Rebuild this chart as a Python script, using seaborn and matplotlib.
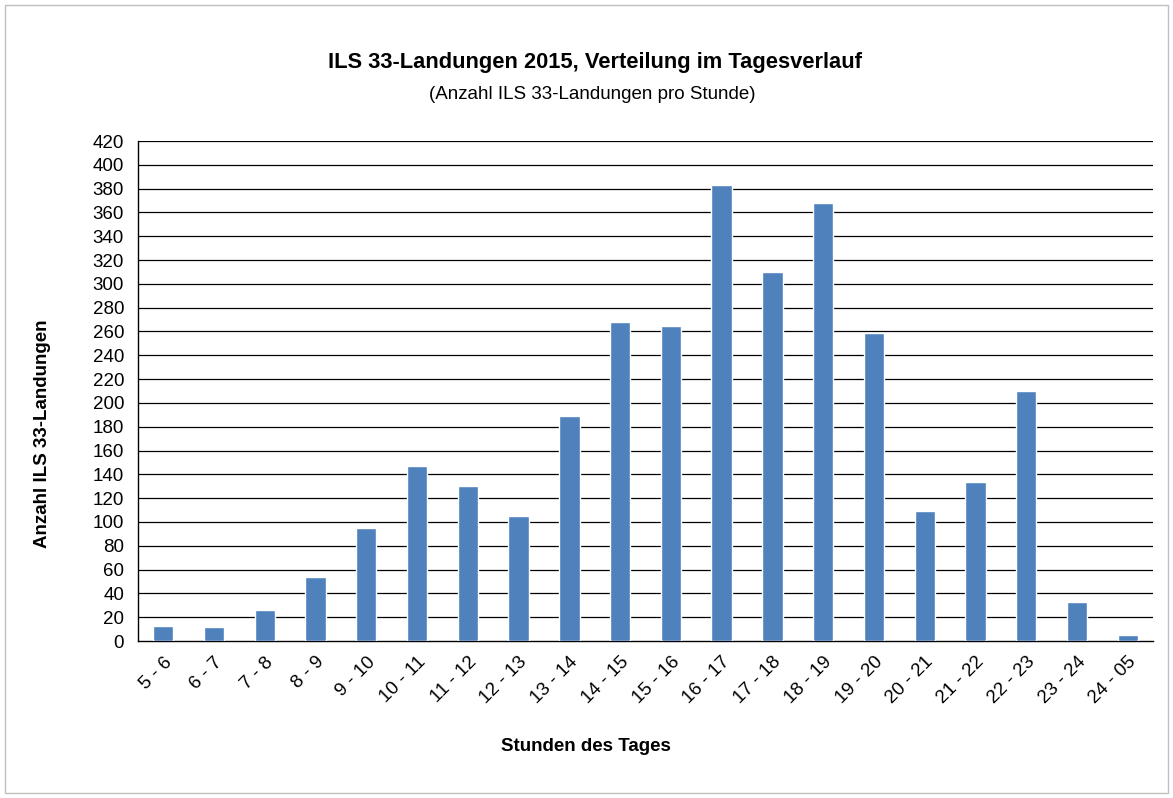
import pandas as pd
import matplotlib
matplotlib.use('Agg')
import matplotlib.pyplot as plt
import seaborn as sns
from matplotlib.patches import Rectangle

hours = ["5 - 6", "6 - 7", "7 - 8", "8 - 9", "9 - 10", "10 - 11", "11 - 12",
         "12 - 13", "13 - 14", "14 - 15", "15 - 16", "16 - 17", "17 - 18",
         "18 - 19", "19 - 20", "20 - 21", "21 - 22", "22 - 23", "23 - 24", "24 - 05"]
landings = [13, 12, 26, 54, 95, 147, 130, 105, 189, 268, 265, 383, 310, 368,
            259, 109, 134, 210, 33, 5]
y_ticks = list(range(0, 421, 20))

df = pd.DataFrame({"Stunde": hours, "Landungen": landings})

sns.set_style("white")
plt.rcParams['font.family'] = ['Liberation Sans', 'DejaVu Sans']
plt.rcParams['text.color'] = 'black'
plt.rcParams['axes.labelcolor'] = 'black'
plt.rcParams['xtick.color'] = 'black'
plt.rcParams['ytick.color'] = 'black'

fig = plt.figure(figsize=(11.73, 7.98), dpi=100)
ax = fig.add_axes([0.1176, 0.1967, 0.8654, 0.6266])

sns.barplot(data=df, x="Stunde", y="Landungen", color="#4F81BD", width=0.4,
            saturation=1, ax=ax, zorder=3)

ax.set_ylim(0, 420)
ax.set_xlim(-0.5, len(hours) - 0.5)
ax.set_yticks(y_ticks)
ax.set_yticklabels([str(v) for v in y_ticks], fontsize=13.5)
for v in y_ticks[1:]:
    ax.axhline(v, color="black", linewidth=0.9, zorder=1)

# Excel-style ticks between categories
ax.set_xticks(range(len(hours)))
ax.set_xticklabels(hours, rotation=45, ha="right", rotation_mode="anchor", fontsize=13.5)
ax.tick_params(axis="x", which="major", length=0, pad=9)
ax.set_xticks([i - 0.5 for i in range(len(hours) + 1)], minor=True)
ax.tick_params(axis="x", which="minor", length=6, width=1, color="black", direction="out")
ax.tick_params(axis="y", length=6, width=1, color="black", direction="out", pad=4)

for side in ["top", "right"]:
    ax.spines[side].set_visible(False)
for side in ["left", "bottom"]:
    ax.spines[side].set_color("black")
    ax.spines[side].set_linewidth(1)

ax.set_xlabel("Stunden des Tages", fontsize=13.5, fontweight="bold")
ax.set_ylabel("Anzahl ILS 33-Landungen", fontsize=13.5, fontweight="bold")
ax.xaxis.set_label_coords(0.441, -0.194)
ax.yaxis.set_label_coords(-0.086, 0.414)

fig.text(0.507, 0.922, "ILS 33-Landungen 2015, Verteilung im Tagesverlauf",
         ha="center", va="center", fontsize=15.75, fontweight="bold")
fig.text(0.505, 0.881, "(Anzahl ILS 33-Landungen pro Stunde)",
         ha="center", va="center", fontsize=13.5)

fig.patches.append(Rectangle((0.004, 0.006), 0.992, 0.988, transform=fig.transFigure,
                             fill=False, edgecolor="#BFBFBF", linewidth=1))

fig.savefig("out.png", dpi=100)
